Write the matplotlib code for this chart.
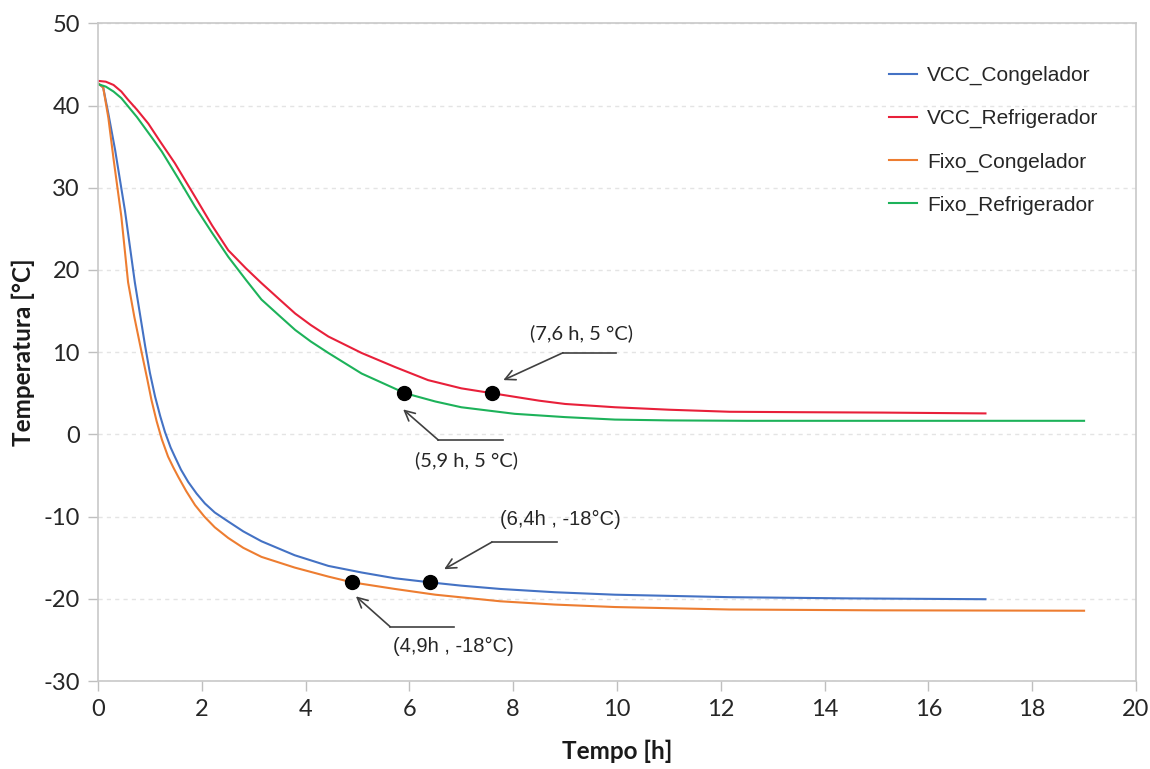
import matplotlib
matplotlib.use("Agg")
import matplotlib.pyplot as plt

plt.rcParams["axes.unicode_minus"] = False

# ---------------- data ----------------
vcc_ref_t = [0, 0.15, 0.3, 0.45, 0.58, 0.75, 0.97, 1.2, 1.48, 1.87, 2.2, 2.51, 2.85, 3.15, 3.5, 3.80,
             4.1, 4.44, 5.08, 5.72, 6.36, 7.0, 7.6, 8.5, 9.0, 9.96, 11.0, 12.17, 13.5, 15.12, 17.1]
vcc_ref_T = [43.0, 42.9, 42.5, 41.7, 40.7, 39.5, 37.8, 35.6, 33.0, 28.9, 25.4, 22.4, 20.2, 18.4, 16.4, 14.7,
             13.3, 11.9, 9.9, 8.2, 6.6, 5.6, 5.0, 4.1, 3.7, 3.3, 3.0, 2.75, 2.7, 2.65, 2.55]

fixo_ref_t = [0, 0.15, 0.3, 0.45, 0.58, 0.75, 0.9, 1.05, 1.23, 1.55, 1.87, 2.2, 2.51, 2.85, 3.15, 3.5,
              3.80, 4.1, 4.44, 5.08, 5.92, 6.5, 7.0, 8.03, 9.0, 9.96, 11.0, 12.5, 15.0, 17.0, 19.0]
fixo_ref_T = [42.6, 42.3, 41.7, 40.9, 39.9, 38.6, 37.3, 36.0, 34.4, 31.1, 27.7, 24.5, 21.6, 18.8, 16.4, 14.4,
              12.7, 11.3, 9.9, 7.4, 5.0, 4.0, 3.3, 2.5, 2.1, 1.8, 1.7, 1.65, 1.65, 1.65, 1.65]

vcc_cong_t = [0, 0.1, 0.2, 0.33, 0.52, 0.71, 0.91, 1.0, 1.1, 1.2, 1.29, 1.4, 1.48, 1.6, 1.74, 1.9, 2.06,
              2.25, 2.51, 2.8, 3.15, 3.79, 4.44, 5.08, 5.72, 6.4, 7.0, 7.75, 8.8, 9.96, 12.17, 14.5, 17.1]
vcc_cong_T = [42.7, 42.2, 39.0, 34.6, 27.2, 18.5, 10.7, 7.5, 4.6, 2.2, 0.3, -1.6, -2.7, -4.3, -5.8, -7.2, -8.4,
              -9.5, -10.6, -11.8, -13.0, -14.7, -16.0, -16.8, -17.5, -18.0, -18.4, -18.8, -19.2, -19.5,
              -19.8, -19.95, -20.05]

fixo_cong_t = [0, 0.1, 0.2, 0.3, 0.45, 0.58, 0.7, 0.84, 0.95, 1.03, 1.13, 1.23, 1.35, 1.45, 1.55, 1.7,
               1.87, 2.05, 2.25, 2.51, 2.8, 3.15, 3.79, 4.44, 4.9, 5.72, 6.5, 7.75, 8.8, 9.96, 12.17, 15.0, 19.0]
fixo_cong_T = [42.7, 42.2, 38.5, 33.5, 26.5, 18.5, 14.3, 10.0, 6.7, 4.2, 1.6, -0.6, -2.7, -4.0, -5.2, -6.9,
               -8.6, -10.0, -11.3, -12.6, -13.8, -14.9, -16.2, -17.3, -18.0, -18.8, -19.5, -20.3, -20.7,
               -21.0, -21.3, -21.4, -21.45]

series_names = ["VCC_Congelador", "VCC_Refrigerador", "Fixo_Congelador", "Fixo_Refrigerador"]
series_colors = ["#4472C4", "#E8203A", "#ED7D31", "#1DB25A"]

mark_t = [7.6, 5.9, 6.4, 4.9]
mark_T = [5, 5, -18, -18]
mark_labels = ["(7,6 h, 5 °C)", "(5,9 h, 5 °C)", "(6,4h , -18°C)", "(4,9h , -18°C)"]

x_ticks = list(range(0, 21, 2))
y_ticks = list(range(-30, 51, 10))

# ---------------- figure ----------------
fig = plt.figure(figsize=(11.5, 7.69), dpi=100)
ax = fig.add_axes([0.0852, 0.1144, 0.9026, 0.8553])

data = [(vcc_cong_t, vcc_cong_T), (vcc_ref_t, vcc_ref_T), (fixo_cong_t, fixo_cong_T), (fixo_ref_t, fixo_ref_T)]
for (t, T), name, c in zip(data, series_names, series_colors):
    ax.plot(t, T, color=c, lw=1.5, label=name, solid_joinstyle="round")

ax.plot(mark_t, mark_T, 'o', color='black', ms=10, zorder=5)

# leader geometry (layout offsets relative to marked point): tip, elbow, end, text
leaders = [
    ((0.21, 1.6), (1.36, 4.93), (2.39, 4.93), (1.72, 7.3), "Lato"),
    ((-0.02, -1.96), (0.66, -5.7), (1.91, -5.7), (1.2, -8.1), "Lato"),
    ((0.27, 1.6), (1.19, 4.9), (2.45, 4.9), (2.5, 7.6), "Liberation Sans"),
    ((0.07, -1.7), (0.73, -5.4), (1.96, -5.4), (1.95, -7.8), "Liberation Sans"),
]
lc = "#404040"
for (px, py), lab, (tip, elb, end, txt, fam) in zip(zip(mark_t, mark_T), mark_labels, leaders):
    ax.plot([px + end[0], px + elb[0]], [py + end[1], py + elb[1]], color=lc, lw=1.2)
    ax.annotate("", xy=(px + tip[0], py + tip[1]), xytext=(px + elb[0], py + elb[1]),
                arrowprops=dict(arrowstyle="->", color=lc, lw=1.2, mutation_scale=18,
                                shrinkA=0, shrinkB=0))
    ax.text(px + txt[0], py + txt[1], lab, ha="center", va="center", fontsize=14.5,
            family=fam, color="#262626")

ax.set_xlim(0, 20)
ax.set_ylim(-30, 50)
ax.set_xticks(x_ticks)
ax.set_yticks(y_ticks)
ax.tick_params(axis="both", direction="out", length=7, width=1, color="#BFBFBF",
               labelsize=17, labelcolor="#262626", pad=6)
for lbl in ax.get_xticklabels() + ax.get_yticklabels():
    lbl.set_family("Lato")
for s in ax.spines.values():
    s.set_color("#C8C8C8")
    s.set_linewidth(1.2)

ax.yaxis.grid(True, color="#E4E4E4", lw=1, ls=(0, (3, 3)))
ax.set_axisbelow(True)

ax.set_xlabel("Tempo [h]", fontsize=17.5, fontweight="bold", family="Lato", color="#1a1a1a", labelpad=14)
ax.set_ylabel("Temperatura [°C]", fontsize=17.5, fontweight="bold", family="Lato", color="#1a1a1a", labelpad=6)

leg = ax.legend(loc="upper right", bbox_to_anchor=(0.972, 0.948), frameon=False,
                prop={"family": "Liberation Sans", "size": 15}, handlelength=1.35,
                handletextpad=0.5, labelspacing=1.15, borderaxespad=0)
for t in leg.get_texts():
    t.set_color("#262626")

fig.savefig("out.png", dpi=100)
